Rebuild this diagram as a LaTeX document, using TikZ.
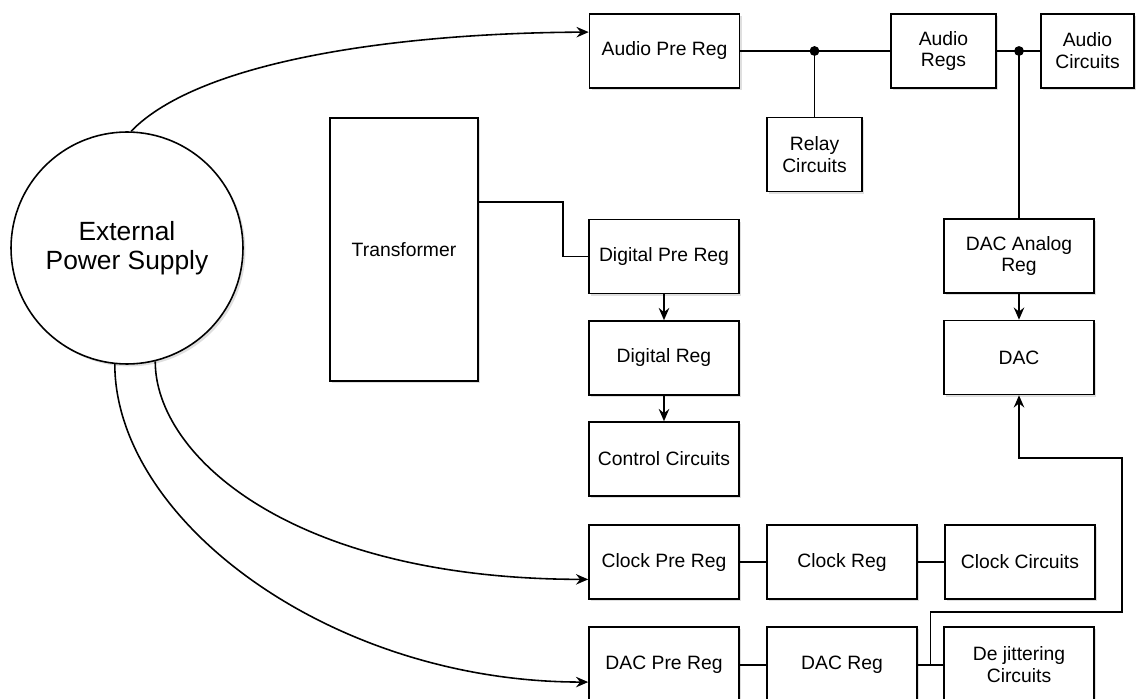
\documentclass[tikz,border=0pt]{standalone}
\usepackage{fontspec}
\setmainfont{Liberation Sans}
\usetikzlibrary{arrows.meta,calc,shadows}

\begin{document}
\begin{tikzpicture}[x=0.02cm, y=-0.02cm,
    shade/.style={drop shadow={opacity=0.25, shadow xshift=1.4pt, shadow yshift=-1.4pt}},
    blk/.style={draw, line width=0.9pt, fill=white, shade, minimum width=3cm, minimum height=1.48cm,
      inner sep=0pt, align=center, font=\fontsize{11}{12.5}\selectfont},
    wire/.style={line width=0.9pt},
    feed/.style={wire, -{Stealth[length=7pt, width=6pt, inset=2.4pt]}}]
  \useasboundingbox (0, 0) rectangle (1136, 699);

  \node[circle, draw, line width=0.9pt, fill=white, shade, minimum size=4.64cm, align=center,
    font=\fontsize{15}{16.5}\selectfont] (eps) at (127, 248){External\\Power Supply};
  \node[blk, minimum height=5.26cm, minimum width=2.96cm] (trans) at (404, 249.5){Transformer};

  \node[blk] (apre) at (664.5, 51){Audio Pre Reg};
  \node[blk, minimum width=2.1cm] (aregs) at (943.5, 51){Audio\\Regs};
  \node[blk, minimum width=1.86cm] (acirc) at (1087.5, 51){Audio\\Circuits};
  \node[blk, minimum width=1.9cm] (relay) at (814.5, 154.5){Relay\\Circuits};

  \node[blk] (dpre) at (664, 256.5){Digital Pre Reg};
  \node[blk] (dreg) at (664, 358){Digital Reg};
  \node[blk] (ctrl) at (664, 459){Control Circuits};

  \node[blk] (daa) at (1019, 256){DAC Analog\\Reg};
  \node[blk] (dac) at (1019, 357.5){DAC};

  \node[blk] (cpre) at (664, 562){Clock Pre Reg};
  \node[blk] (creg) at (842, 562){Clock Reg};
  \node[blk] (ccirc) at (1020, 562){Clock Circuits};

  \node[blk, minimum height=1.52cm] (dacpre) at (664, 665){DAC Pre Reg};
  \node[blk, minimum height=1.52cm] (dacreg) at (842, 665){DAC Reg};
  \node[blk, minimum height=1.52cm] (dejit) at (1019, 665){De jittering\\Circuits};

  \coordinate (j1) at (relay.north |- apre.east);
  \coordinate (j2) at (daa.north |- aregs.east);
  \coordinate (j3) at ($(dacreg.east)!.5!(dejit.west)$);

  \draw[feed] (eps.88) .. controls (200, 60) and (400, 33) .. ($(apre.north west)!.25!(apre.south west)$);
  \draw[feed] (eps.-76) .. controls (155, 455) and (290, 579) .. ($(cpre.north west)!.73!(cpre.south west)$);
  \draw[feed] (eps.-96) .. controls (115, 520) and (330, 682) .. ($(dacpre.north west)!.72!(dacpre.south west)$);

  \draw[wire] (apre.east) -- (aregs.west);
  \draw[wire] (j1) -- (relay.north);
  \draw[wire] (aregs.east) -- (acirc.west);
  \draw[wire] (j2) -- (daa.north);
  \fill (j1) circle (2.8pt);
  \fill (j2) circle (2.8pt);

  \draw[wire] ($(trans.north east)!.32!(trans.south east)$) -- ++(84, 0) |- (dpre.west);
  \draw[feed] (dpre.south) -- (dreg.north);
  \draw[feed] (dreg.south) -- (ctrl.north);
  \draw[feed] (daa.south) -- (dac.north);

  \draw[wire] (cpre.east) -- (creg.west);
  \draw[wire] (creg.east) -- (ccirc.west);
  \draw[wire] (dacpre.east) -- (dacreg.west);
  \draw[wire] (dacreg.east) -- (dejit.west);
  \draw[feed] (j3) |- ++(191.5, -53) -- ++(0, -154) -| (dac.south);
\end{tikzpicture}
\end{document}
